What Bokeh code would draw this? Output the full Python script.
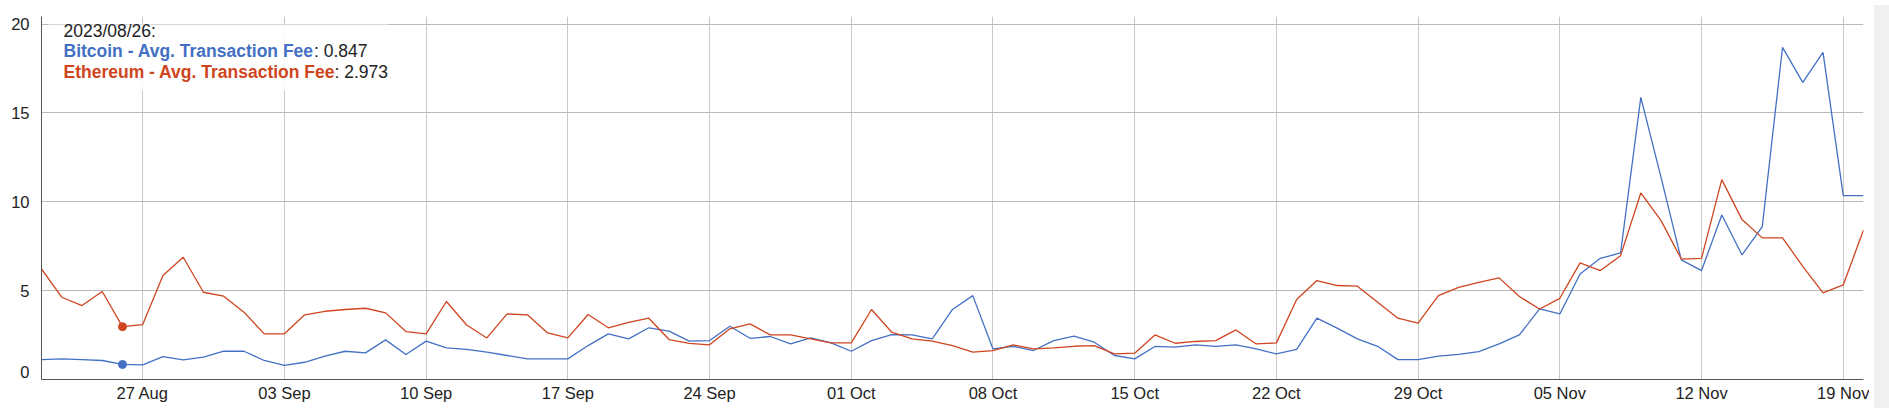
import pandas as pd
from bokeh.plotting import figure
from bokeh.models import (Range1d, FixedTicker, DatetimeTickFormatter, Label,
                          BoxAnnotation, Div, ColumnDataSource)
from bokeh.layouts import row
from bokeh.embed import file_html
from bokeh.resources import INLINE

# ---------------- data ----------------
dates = pd.date_range("2023-08-22", "2023-11-20", freq="D")

btc_fee = [1.12, 1.16, 1.12, 1.07, 0.847, 0.82, 1.29, 1.11, 1.26, 1.59,
           1.59, 1.07, 0.79, 0.97, 1.31, 1.59, 1.50, 2.23, 1.41, 2.16,
           1.78, 1.69, 1.54, 1.35, 1.16, 1.16, 1.16, 1.91, 2.57, 2.29,
           2.91, 2.72, 2.16, 2.19, 3.00, 2.32, 2.42, 2.00, 2.34, 2.06,
           1.59, 2.19, 2.53, 2.51, 2.29, 3.94, 4.72, 1.72, 1.87, 1.63,
           2.19, 2.44, 2.10, 1.35, 1.16, 1.86, 1.82, 1.95, 1.86, 1.95,
           1.72, 1.44, 1.69, 3.45, 2.89, 2.29, 1.87, 1.12, 1.12, 1.31,
           1.41, 1.57, 2.00, 2.51, 3.97, 3.69, 5.94, 6.82, 7.12, 15.88,
           11.38, 6.73, 6.13, 9.26, 7.01, 8.61, 18.69, 16.72, 18.41, 10.35,
           10.35]

eth_fee = [6.22, 4.63, 4.16, 4.95, 2.973, 3.09, 5.85, 6.88, 4.91, 4.69,
           3.79, 2.57, 2.57, 3.64, 3.84, 3.94, 4.01, 3.75, 2.70, 2.57,
           4.39, 3.07, 2.34, 3.69, 3.64, 2.62, 2.34, 3.66, 2.91, 3.22,
           3.45, 2.25, 2.03, 1.95, 2.85, 3.13, 2.51, 2.51, 2.29, 2.06,
           2.06, 3.94, 2.66, 2.29, 2.16, 1.91, 1.54, 1.63, 1.95, 1.72,
           1.78, 1.87, 1.91, 1.44, 1.48, 2.51, 2.04, 2.14, 2.19, 2.79,
           2.00, 2.06, 4.50, 5.57, 5.29, 5.25, 4.35, 3.45, 3.17, 4.72,
           5.19, 5.47, 5.72, 4.67, 3.97, 4.57, 6.56, 6.13, 6.97, 10.50,
           8.94, 6.78, 6.82, 11.25, 9.00, 7.97, 7.97, 6.37, 4.87, 5.32,
           8.42]

series_names = ["Bitcoin - Avg. Transaction Fee", "Ethereum - Avg. Transaction Fee"]
x_tick_dates = pd.date_range("2023-08-27", "2023-11-19", freq="7D")
y_ticks = [0, 5, 10, 15, 20]
y_max = 20.43
highlight_index = 4          # 2023/08/26
legend_title = "2023/08/26:"

BTC_COLOR = "#4470c4"
ETH_COLOR = "#cf4520"
FONT = "Liberation Sans"
TICK_SIZE = "16.5px"

# ---------------- geometry ----------------
W, H = 1869, 408
B_LEFT, B_RIGHT, B_TOP, B_BOTTOM = 41, 6, 16, 29
frame_w = W - B_LEFT - B_RIGHT
frame_h = H - B_TOP - B_BOTTOM

x0 = dates[0].timestamp() * 1000
x1 = dates[-1].timestamp() * 1000

def px_x(px):   # px measured from frame left
    return x0 + px / frame_w * (x1 - x0)

def px_y(py):   # py measured from frame top
    return y_max * (1 - py / frame_h)

src = ColumnDataSource(dict(date=dates, btc=btc_fee, eth=eth_fee))

p = figure(width=W, height=H, output_backend="svg", toolbar_location=None,
           x_axis_type="datetime",
           x_range=Range1d(x0, x1), y_range=Range1d(0, y_max),
           min_border_left=B_LEFT, min_border_right=B_RIGHT,
           min_border_top=B_TOP, min_border_bottom=B_BOTTOM)
p.outline_line_color = None
p.background_fill_color = "white"
p.border_fill_color = "white"

# axes
p.xaxis.ticker = FixedTicker(ticks=[d.timestamp() * 1000 for d in x_tick_dates])
fmt = "%d %b"
p.xaxis.formatter = DatetimeTickFormatter(
    milliseconds=fmt, seconds=fmt, minsec=fmt, minutes=fmt, hourmin=fmt,
    hours=fmt, days=fmt, months=fmt, years=fmt)

# dygraphs lifts the bottom label ("0") so that it sits above the axis line
zero_label_pos = px_y(frame_h - 8)
p.yaxis.ticker = FixedTicker(ticks=[zero_label_pos] + y_ticks[1:])
p.yaxis.major_label_overrides = {zero_label_pos: str(y_ticks[0])}
p.ygrid.ticker = FixedTicker(ticks=y_ticks)

for ax in (p.xaxis[0], p.yaxis[0]):
    ax.major_tick_line_color = None
    ax.minor_tick_line_color = None
    ax.axis_line_color = "#555555"
    ax.axis_line_width = 1
    ax.major_label_text_font = FONT
    ax.major_label_text_font_size = TICK_SIZE
    ax.major_label_text_color = "#222222"
p.xaxis.major_label_standoff = -2
p.yaxis.major_label_standoff = 6

p.xgrid.grid_line_color = "#c8c8c8"
p.ygrid.grid_line_color = "#b8b8b8"

# series
p.line("date", "btc", source=src, color=BTC_COLOR, line_width=1.3)
p.line("date", "eth", source=src, color=ETH_COLOR, line_width=1.3)
p.scatter([dates[highlight_index]], [btc_fee[highlight_index]], size=8,
          color=BTC_COLOR)
p.scatter([dates[highlight_index]], [eth_fee[highlight_index]], size=8,
          color=ETH_COLOR)

# legend (dygraphs style)
p.add_layout(BoxAnnotation(left=px_x(7), right=px_x(347),
                           top=px_y(8), bottom=px_y(74),
                           fill_color="white", fill_alpha=0.85,
                           line_color=None))
lx = 22
rows = [(legend_title, "#222222", "normal", None, None),
        (series_names[0], BTC_COLOR, "bold", btc_fee[highlight_index], 250.5),
        (series_names[1], ETH_COLOR, "bold", eth_fee[highlight_index], 271)]
line_y = [14.7, 34.9, 55.6]
for (txt, col, style, val, off), yy in zip(rows, line_y):
    p.add_layout(Label(x=px_x(lx), y=px_y(yy), text=txt, text_color=col,
                       text_font=FONT, text_font_style=style,
                       text_font_size="17.5px", text_baseline="middle",
                       text_align="left"))
    if val is not None:
        p.add_layout(Label(x=px_x(lx + off), y=px_y(yy), text=f": {val:.3f}",
                           text_color="#222222", text_font=FONT,
                           text_font_size="17.5px", text_baseline="middle",
                           text_align="left"))

strip = Div(width=20, height=H, styles={"background-color": "#f0f0f0"})
layout = row(p, strip)

open("out.html", "w").write(file_html(layout, INLINE))
